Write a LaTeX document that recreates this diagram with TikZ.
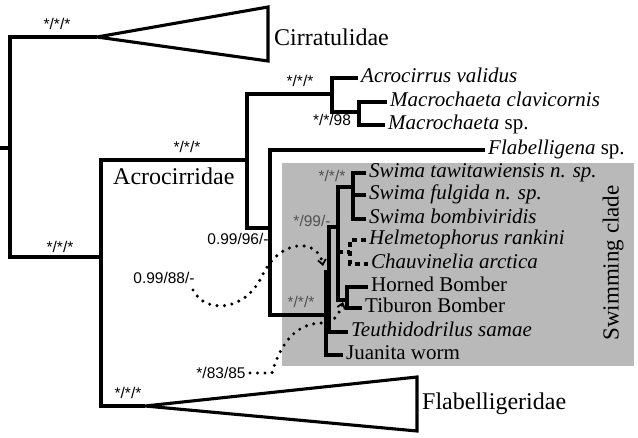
\documentclass[tikz,border=0pt]{standalone}
\usepackage{fontspec}
\setmainfont{Liberation Serif}
\newfontfamily\supfont{Liberation Sans}
\usetikzlibrary{arrows.meta}
\definecolor{boxgray}{RGB}{185,185,185}
\definecolor{supgray}{RGB}{80,80,80}
\tikzset{
  br/.style={line width=3.1pt},
  brdash/.style={line width=3.1pt, dash pattern=on 5pt off 4pt},
  tri/.style={line width=3.1pt, line join=miter, miter limit=3},
  leaf/.style={anchor=west, inner xsep=3pt, inner ysep=0pt, text height=14pt, text depth=4pt,
    font=\fontsize{21}{21}\selectfont},
  clade/.style={anchor=west, inner xsep=3pt, inner ysep=0pt, font=\fontsize{24}{24}\selectfont},
  supv/.style={inner sep=0pt, font=\supfont\fontsize{15.5}{15.5}\selectfont},
  supg/.style={supv, text=supgray},
  dotarrow/.style={line width=3.4pt, dash pattern=on 0pt off 7.5pt, line cap=round,
    -{Straight Barb[length=5pt,width=8pt,line width=1.8pt]}}
}
\begin{document}
\begin{tikzpicture}[x=1pt,y=-1pt]
\useasboundingbox (0,0) rectangle (638,438);
% gray box of the swimming clade
\fill[boxgray] (282,163) rectangle (634,366);
\node[rotate=90, inner sep=0pt, font=\fontsize{23}{23}\selectfont] (swc) at (613,263) {Swimming clade};

% internal nodes
\coordinate (stub) at (0,148);
\coordinate (nR) at (10,148);
\coordinate (cirA) at (97,37);
\coordinate (n1) at (101,257);
\coordinate (nA) at (247,160);
\coordinate (flA) at (145,406);
\coordinate (nAc) at (332,94);
\coordinate (nMa) at (359,112);
\coordinate (nB) at (270,228);
\coordinate (nC) at (326,315);
\coordinate (nD) at (329,272);
\coordinate (nE) at (338,227);
\coordinate (nS) at (353,187);
\coordinate (nBo) at (347,300);
\coordinate (nH) at (350,252);

% triangles
\coordinate (cirT) at (268,7);
\coordinate (cirB) at (268,61);
\coordinate (flT) at (417,377);
\coordinate (flB) at (417,431);
\draw[tri] (cirA) -- (cirT) -- (cirB) -- cycle;
\draw[tri] (flA) -- (flT) -- (flB) -- cycle;
\node[clade] (cir) at (271,37) {Cirratulidae};
\node[clade] (flb) at (419,404) {Flabelligeridae};
\node[clade] (acr) at (110,176) {Acrocirridae};

% leaves
\node[leaf] (acv) at (358,78) {\textit{Acrocirrus validus}};
\node[leaf] (mcl) at (387,102) {\textit{Macrochaeta clavicornis}};
\node[leaf] (msp) at (385,125) {\textit{Macrochaeta} sp.};
\node[leaf] (flg) at (485,150) {\textit{Flabelligena} sp.};
\node[leaf] (sw1) at (366,173) {\textit{Swima tawitawiensis n. sp.}};
\node[leaf] (sw2) at (366,195) {\textit{Swima fulgida n. sp.}};
\node[leaf] (sw3) at (366,219) {\textit{Swima bombiviridis}};
\node[leaf] (hel) at (366,240) {\textit{Helmetophorus rankini}};
\node[leaf] (cha) at (368,264) {\textit{Chauvinelia arctica}};
\node[leaf] (hbo) at (368,287) {Horned Bomber};
\node[leaf] (tbo) at (362,308) {Tiburon Bomber};
\node[leaf] (teu) at (348,332) {\textit{Teuthidodrilus samae}};
\node[leaf] (jua) at (343,355) {Juanita worm};

% branches
\draw[br] (stub) -- (nR);
\draw[br] (cirA) -| (nR) |- (n1);
\draw[br] (nA) -| (n1) |- (flA);
\draw[br] (nAc) -| (nA) |- (nB);
\draw[br] (acv.west) -| (nAc) |- (nMa);
\draw[br] (mcl.west) -| (nMa) |- (msp.west);
\draw[br] (flg.west) -| (nB) |- (nC);
\draw[br] (nD) -| (nC) |- (jua.west);
\draw[br] (nE) -| (nD) |- (teu.west);
\draw[br] (nS) -| (nE) |- (nBo);
\draw[br] (sw1.west) -| (nS) |- (sw3.west);
\draw[br] (nS |- sw2.west) -- (sw2.west);
\draw[br] (hbo.west) -| (nBo) |- (tbo.west);
\draw[brdash] (hel.west) -| (nH) |- (cha.west);
\draw[brdash] (nE |- nH) -- (nH);

% support values
\node[supv] (s1) at (57,24) {*/*/*};
\node[supv] (s2) at (60,247) {*/*/*};
\node[supv] (s3) at (187,147) {*/*/*};
\node[supv] (s4) at (300,81) {*/*/*};
\node[supv] (s5) at (332,120) {*/*/98};
\node[supv] (s6) at (238,239) {0.99/96/-};
\node[supv] (s7) at (164,278) {0.99/88/-};
\node[supv] (s8) at (221,373) {*/83/85};
\node[supv] (s9) at (128,393) {*/*/*};
\node[supg] (g1) at (332,176) {*/*/*};
\node[supg] (g2) at (312,221) {*/99/-};
\node[supg] (g3) at (301,302) {*/*/*};

% dotted arrows
\coordinate (d1s) at (193,290);
\coordinate (d1e) at (323,266);
\coordinate (d2s) at (250,373);
\coordinate (d2e) at (343,302);
\draw[dotarrow] (d1s) .. controls (205,314) and (245,312) .. (262,276) .. controls (280,238) and (318,238) .. (d1e);
\draw[dotarrow] (d2s) -- (272,373) .. controls (282,338) and (300,322) .. (325,323) .. controls (335,322) and (340,312) .. (d2e);
\end{tikzpicture}
\end{document}
